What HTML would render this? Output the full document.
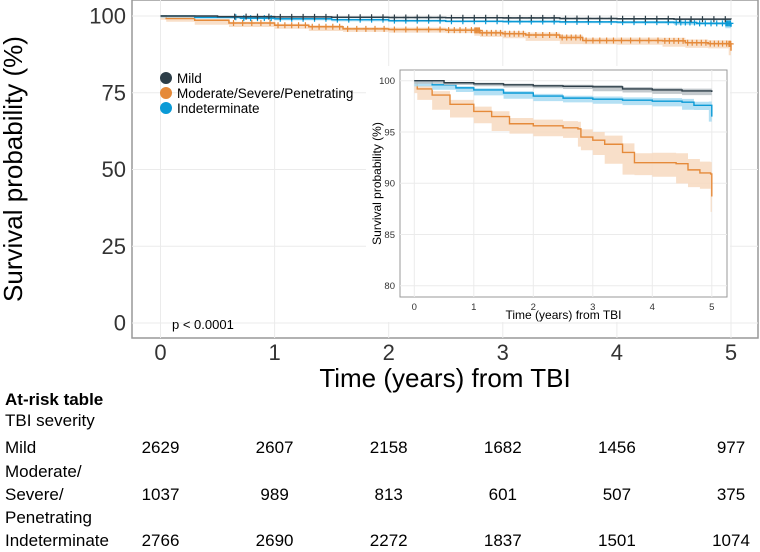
<!DOCTYPE html>
<html><head><meta charset="utf-8"><style>
body{margin:0;background:#fff;width:760px;height:547px;overflow:hidden;font-family:"Liberation Sans",Arial,sans-serif}
svg text{font-family:"Liberation Sans",Arial,sans-serif}
</style></head><body>
<svg id="chart" width="760" height="547">
<g id="main"></g>
<g id="inset"></g>
<g id="legend">
 <circle cx="166" cy="78" r="6" fill="#2d3e48"/>
 <text x="177" y="83" font-size="13.5">Mild</text>
 <circle cx="166" cy="93" r="6" fill="#e58a3a"/>
 <text x="177" y="98" font-size="13.5">Moderate/Severe/Penetrating</text>
 <circle cx="166" cy="108" r="6" fill="#0a9ad6"/>
 <text x="177" y="113" font-size="13.5">Indeterminate</text>
</g>
<text x="172" y="329" font-size="13">p &lt; 0.0001</text>
<g id="table"></g>
</svg>
<script>
const years=[0,1,2,3,4,5];
const mildT=[0,0.5,1,1.5,2,2.5,3,3.5,4,4.5,5];
const mildS=[100,99.8,99.7,99.6,99.5,99.45,99.4,99.2,99.1,99.0,98.9];
const indT=[0,0.3,0.7,1,1.5,2,2.5,3,3.5,4,4.5,4.7,4.95,5];
const indS=[100,99.6,99.3,99.1,98.8,98.5,98.3,98.2,98.1,98.0,97.9,97.6,97.6,96.5];
const modT=[0,0.05,0.3,0.6,1,1.3,1.6,2,2.5,2.75,2.8,3,3.2,3.5,3.7,4,4.4,4.6,4.8,4.98,5];
const modS=[100,99.2,98.6,97.7,97.0,96.5,95.8,95.6,95.4,95.3,94.5,94.2,93.8,93.0,92.0,92.0,91.9,91.3,91.0,90.9,88.7];
const riskGroups=["Mild","Moderate/Severe/Penetrating","Indeterminate"];
const riskMild=[2629,2607,2158,1682,1456,977];
const riskMod=[1037,989,813,601,507,375];
const riskInd=[2766,2690,2272,1837,1501,1074];
const mainYTicks=[0,25,50,75,100];
const insetYTicks=[80,85,90,95,100];

const NS="http://www.w3.org/2000/svg";
function mk(p,tag,a){const e=document.createElementNS(NS,tag);for(const k in a)e.setAttribute(k,a[k]);p.appendChild(e);return e;}
function stepPath(T,S,x,y){let d="M"+x(T[0])+","+y(S[0]);for(let i=1;i<T.length;i++){d+="H"+x(T[i])+"V"+y(S[i]);}return d;}
function bandPath(T,S,w,x,y){let up=[],lo=[];for(let i=0;i<T.length;i++){const hw=w*(0.3+i/T.length);up.push([T[i],Math.min(100,S[i]+hw*0.8)]);lo.push([T[i],S[i]-hw]);}
 let d="M"+x(up[0][0])+","+y(up[0][1]);for(let i=1;i<up.length;i++)d+="H"+x(up[i][0])+"V"+y(up[i][1]);
 for(let i=lo.length-1;i>=0;i--){d+="V"+y(lo[i][1]);if(i>0)d+="H"+x(lo[i-1][0]);}return d+"Z";}

function panel(g,cfg){
 const {x,y,L,T,R,B,yt,tickFs,grid}=cfg;
 mk(g,"rect",{x:L,y:T,width:R-L,height:B-T,fill:"#fff",stroke:"#999","stroke-width":cfg.bw});
 for(const v of yt){const l=mk(g,"line",{x1:L,x2:R,y1:y(v),y2:y(v),stroke:"#ebebeb"});
  const t=mk(g,"text",{x:L-cfg.tickGap,y:y(v)+tickFs*0.35,"font-size":tickFs,"text-anchor":"end",fill:"#333"});t.textContent=v;}
 for(const v of years){mk(g,"line",{x1:x(v),x2:x(v),y1:T,y2:B,stroke:"#ebebeb"});
  const t=mk(g,"text",{x:x(v),y:B+cfg.xtickY,"font-size":tickFs,"text-anchor":"middle",fill:"#333"});t.textContent=v;}
 const series=[[modT,modS,"#e58a3a","#f7d9c0",1.2,"moderate"],[indT,indS,"#0a9ad6","#a7dbf2",0.4,"indeterminate"],[mildT,mildS,"#2d3e48","#b9c0c4",0.25,"mild"]];
 for(const [Ts,Ss,c,f,w,n] of series){
  const b=mk(g,"path",{d:bandPath(Ts,Ss,w,x,y),fill:f,opacity:0.85});
  const p=mk(g,"path",{d:stepPath(Ts,Ss,x,y),fill:"none",stroke:c,"stroke-width":cfg.lw});
  if(cfg.cens){for(let i=1;i<Ts.length;i++){for(let k=0;k<5;k++){const tt=Ts[i-1]+(Ts[i]-Ts[i-1])*(k+0.5)/5;if(tt<0.6)continue;const xx=x(tt),yy=y(Ss[i-1]);
   mk(g,"path",{d:`M${xx-3},${yy}h6M${xx},${yy-3}v6`,stroke:c,"stroke-width":1.2});}}}
 }
 const xt=mk(g,"text",{x:(L+R)/2,y:cfg.xtY,"font-size":cfg.titleFs,"text-anchor":"middle",fill:"#000"});xt.textContent="Time (years) from TBI";
 const ytl=mk(g,"text",{x:0,y:0,"font-size":cfg.titleFs,"text-anchor":"middle",fill:"#000",transform:`translate(${cfg.ytX},${(T+B)/2}) rotate(-90)`});ytl.textContent="Survival probability (%)";
}

// main
const mx=v=>160.5+v*114.1, my=v=>323-v*3.07;
panel(document.getElementById("main"),{x:mx,y:my,L:132,T:0,R:758,B:338,yt:mainYTicks,tickFs:22,tickGap:6,xtickY:22,titleFs:26,xtY:387,ytX:22,lw:1.5,cens:true,bw:1.5});
// inset
const ig=document.getElementById("inset");
mk(ig,"rect",{x:366,y:66,width:364,height:256,fill:"#fff"});
const ix=v=>414.3+v*59.5, iy=v=>80.7+(100-v)*10.25;
panel(ig,{x:ix,y:iy,L:400,T:70,R:727,B:297,yt:insetYTicks,tickFs:9.5,tickGap:5,xtickY:13,titleFs:12,xtY:319,ytX:381,lw:1.4,cens:false,bw:1});

// table
const tb=document.getElementById("table");
let t=mk(tb,"text",{x:5,y:405,"font-size":17,"font-weight":"bold"});t.textContent="At-risk table";
t=mk(tb,"text",{x:5,y:426,"font-size":17});t.textContent="TBI severity";
const rows=[[riskMild,453,["Mild"]],[riskMod,500,["Moderate/","Severe/","Penetrating"]],[riskInd,546,["Indeterminate"]]];
rows.forEach(([vals,yy,lab],ri)=>{
 const n=lab.length; lab.forEach((s,k)=>{const e=mk(tb,"text",{x:5,y:yy+(k-(n-1)/2)*23,"font-size":17});e.textContent=s;});
 vals.forEach((v,i)=>{const e=mk(tb,"text",{x:mx(years[i]),y:yy,"font-size":17,"text-anchor":"middle"});e.textContent=v;});
});
</script>
</body></html>
